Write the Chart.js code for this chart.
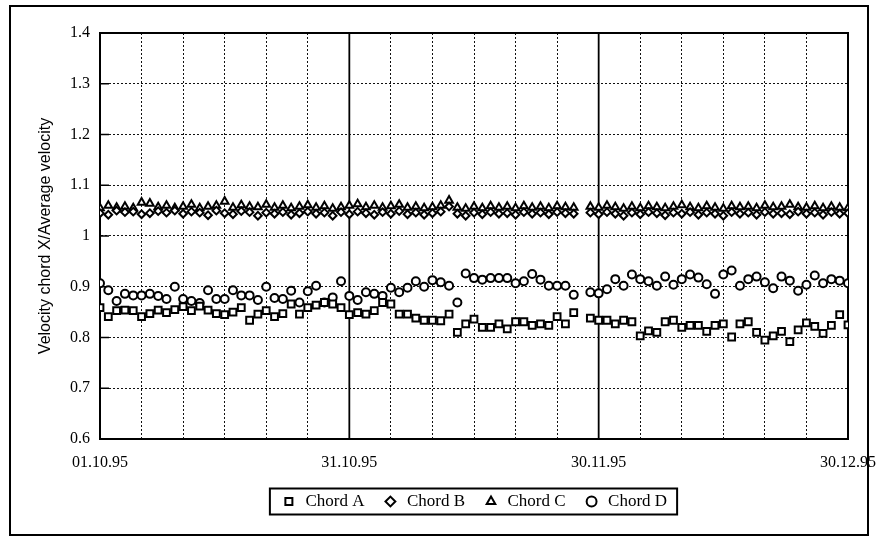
<!DOCTYPE html>
<html>
<head>
<meta charset="utf-8">
<title>Velocity chord X / Average velocity</title>
<script src="https://cdn.jsdelivr.net/npm/chart.js@4.4.1/dist/chart.umd.min.js"></script>
<style>
    html, body { margin: 0; padding: 0; background: #fff; }
    #wrap { width: 880px; height: 541px; position: relative; }
</style>
</head>
<body>
<div id="wrap"><canvas id="chordChart"></canvas></div>
<script>
// daily readings 01.10.95 .. 30.12.95 (index = day since 01.10.95), null = no reading
const chordA = [
    0.859, 0.841, 0.853, 0.854, 0.853, 0.841, 0.847, 0.854, 0.849, 0.855,
    0.861, 0.853, 0.862, 0.854, 0.847, 0.845, 0.850, 0.859, 0.834, 0.846,
    0.853, 0.841, 0.847, 0.866, 0.846, 0.859, 0.864, 0.869, 0.866, 0.859,
    0.845, 0.849, 0.846, 0.853, 0.869, 0.866, 0.846, 0.846, 0.838, 0.834,
    0.834, 0.833, 0.846, 0.810, 0.827, 0.836, 0.820, 0.820, 0.827, 0.817,
    0.831, 0.831, 0.824, 0.827, 0.824, 0.841, 0.827, 0.849, null, 0.838,
    0.834, 0.834, 0.827, 0.834, 0.831, 0.803, 0.813, 0.810, 0.831, 0.834,
    0.820, 0.824, 0.824, 0.812, 0.824, 0.827, 0.801, 0.827, 0.831, 0.810,
    0.795, 0.803, 0.812, 0.792, 0.815, 0.829, 0.822, 0.808, 0.824, 0.845, 0.825
];
const chordB = [
    1.045, 1.042, 1.050, 1.047, 1.048, 1.043, 1.045, 1.049, 1.046, 1.050,
    1.044, 1.048, 1.046, 1.041, 1.050, 1.045, 1.043, 1.049, 1.047, 1.040,
    1.046, 1.044, 1.047, 1.042, 1.045, 1.048, 1.044, 1.046, 1.040, 1.047,
    1.043, 1.048, 1.045, 1.042, 1.047, 1.044, 1.049, 1.043, 1.046, 1.042,
    1.045, 1.048, 1.058, 1.044, 1.040, 1.046, 1.043, 1.047, 1.044, 1.045,
    1.042, 1.047, 1.044, 1.046, 1.043, 1.047, 1.045, 1.044, null, 1.046,
    1.043, 1.047, 1.044, 1.040, 1.046, 1.043, 1.047, 1.045, 1.041, 1.046,
    1.044, 1.047, 1.042, 1.046, 1.044, 1.040, 1.047, 1.044, 1.046, 1.042,
    1.047, 1.044, 1.045, 1.043, 1.048, 1.044, 1.046, 1.042, 1.047, 1.044, 1.045
];
const chordC = [
    1.055, 1.060, 1.056, 1.058, 1.055, 1.066, 1.064, 1.057, 1.060, 1.055,
    1.058, 1.062, 1.055, 1.058, 1.060, 1.068, 1.056, 1.061, 1.058, 1.057,
    1.062, 1.056, 1.060, 1.055, 1.058, 1.061, 1.056, 1.059, 1.054, 1.057,
    1.060, 1.063, 1.057, 1.060, 1.056, 1.059, 1.062, 1.056, 1.058, 1.055,
    1.057, 1.060, 1.070, 1.056, 1.054, 1.058, 1.055, 1.059, 1.056, 1.058,
    1.055, 1.059, 1.056, 1.058, 1.055, 1.059, 1.057, 1.056, null, 1.058,
    1.056, 1.060, 1.057, 1.054, 1.058, 1.055, 1.059, 1.057, 1.055, 1.058,
    1.061, 1.057, 1.055, 1.059, 1.056, 1.054, 1.059, 1.057, 1.058, 1.055,
    1.060, 1.057, 1.058, 1.062, 1.057, 1.056, 1.059, 1.055, 1.058, 1.056, 1.055
];
const chordD = [
    0.907, 0.893, 0.872, 0.886, 0.883, 0.883, 0.886, 0.882, 0.876, 0.900,
    0.876, 0.872, 0.868, 0.893, 0.876, 0.876, 0.893, 0.883, 0.883, 0.874,
    0.900, 0.878, 0.876, 0.892, 0.869, 0.891, 0.902, 0.869, 0.879, 0.911,
    0.882, 0.874, 0.889, 0.886, 0.882, 0.898, 0.889, 0.898, 0.911, 0.900,
    0.913, 0.909, 0.902, 0.869, 0.926, 0.917, 0.914, 0.917, 0.917, 0.917,
    0.907, 0.911, 0.925, 0.914, 0.902, 0.902, 0.902, 0.884, null, 0.889,
    0.887, 0.895, 0.915, 0.902, 0.924, 0.915, 0.911, 0.902, 0.920, 0.904,
    0.915, 0.924, 0.918, 0.905, 0.886, 0.924, 0.932, 0.902, 0.915, 0.920,
    0.909, 0.897, 0.920, 0.912, 0.892, 0.904, 0.922, 0.907, 0.915, 0.912, 0.907
];

const seriesNames = ['Chord A', 'Chord B', 'Chord C', 'Chord D'];
const xTickDays = [0, 30, 60, 90];
const xTickLabels = ['01.10.95', '31.10.95', '30.11.95', '30.12.95'];
const yTickValues = [0.6, 0.7, 0.8, 0.9, 1.0, 1.1, 1.2, 1.3, 1.4];
const yTickLabels = ['0.6', '0.7', '0.8', '0.9', '1', '1.1', '1.2', '1.3', '1.4'];
const monthLines = [30, 60];

function toPoints(values) {
    return values.map((v, day) => ({ x: day, y: v }));
}

// solid month lines, inner tick marks, plot box, legend box and outer frame
const framePlugin = {
    id: 'frames',
    beforeDraw(chart) {
        const ctx = chart.ctx;
        ctx.save();
        ctx.fillStyle = '#fff';
        ctx.fillRect(0, 0, chart.width, chart.height);
        ctx.restore();
    },
    beforeDatasetsDraw(chart) {
        const { ctx, chartArea: a, scales: { x, y } } = chart;
        ctx.save();
        ctx.strokeStyle = '#000';
        ctx.lineWidth = 1.8;
        monthLines.forEach(d => {
            const px = x.getPixelForValue(d);
            ctx.beginPath();
            ctx.moveTo(px, a.top);
            ctx.lineTo(px, a.bottom);
            ctx.stroke();
        });
        ctx.lineWidth = 1.5;
        y.ticks.forEach(t => {
            const py = y.getPixelForValue(t.value);
            ctx.beginPath();
            ctx.moveTo(a.left, py);
            ctx.lineTo(a.left + 9, py);
            ctx.stroke();
        });
        ctx.lineWidth = 2;
        ctx.strokeRect(a.left, a.top, a.right - a.left, a.bottom - a.top);
        ctx.restore();
    },
    afterDraw(chart) {
        const ctx = chart.ctx;
        const boxes = chart.legend.legendHitBoxes;
        ctx.save();
        ctx.strokeStyle = '#000';
        if (boxes && boxes.length) {
            const first = boxes[0];
            const last = boxes[boxes.length - 1];
            const cy = first.top + first.height / 2;
            ctx.lineWidth = 2;
            ctx.strokeRect(first.left - 11, cy - 13, last.left + last.width + 10 - (first.left - 11), 26);
        }
        ctx.lineWidth = 2;
        ctx.strokeRect(10, 6, 858, 529);
        ctx.restore();
    }
};

const markerStyles = [
    { pointStyle: 'rect', radius: 4.8, fill: '#fff' },
    { pointStyle: 'rectRot', radius: 3.8, fill: '#fff' },
    { pointStyle: 'triangle', radius: 4.4, fill: '#fff' },
    { pointStyle: 'circle', radius: 4.0, fill: '#fff' }
];

const allSeries = [chordA, chordB, chordC, chordD];

const datasets = allSeries.map((values, i) => ({
    label: seriesNames[i],
    data: toPoints(values),
    showLine: false,
    pointStyle: markerStyles[i].pointStyle,
    pointRadius: markerStyles[i].radius,
    pointBorderWidth: 2,
    pointBorderColor: '#000',
    pointBackgroundColor: markerStyles[i].fill,
    borderColor: '#000',
    backgroundColor: markerStyles[i].fill
}));

const ctx = document.getElementById('chordChart').getContext('2d');

const chordChart = new Chart(ctx, {
    type: 'scatter',
    data: { datasets: datasets },
    plugins: [framePlugin],
    options: {
        responsive: true,
        maintainAspectRatio: false,
        animation: false,
        devicePixelRatio: 1,
        layout: {
            padding: { left: 36, right: 32, top: 33, bottom: 21 }
        },
        plugins: {
            tooltip: { enabled: false },
            legend: {
                position: 'bottom',
                fullSize: false,
                labels: {
                    usePointStyle: true,
                    boxWidth: 16,
                    boxHeight: 7,
                    padding: 18,
                    color: '#000',
                    font: { family: 'Liberation Serif', size: 17 }
                }
            }
        },
        scales: {
            x: {
                type: 'linear',
                min: 0,
                max: 90,
                afterFit(scale) {
                    scale.height = 36;
                    scale.paddingLeft = 0;
                    scale.paddingRight = 0;
                },
                afterBuildTicks(scale) {
                    const ticks = [];
                    for (let d = 0; d <= 90; d += 5) ticks.push({ value: d });
                    scale.ticks = ticks;
                },
                grid: {
                    color: '#111',
                    lineWidth: 1,
                    drawTicks: false
                },
                border: { display: true, color: '#000', width: 2, dash: [2, 2] },
                ticks: {
                    autoSkip: false,
                    maxRotation: 0,
                    padding: 14,
                    color: '#000',
                    font: { family: 'Liberation Serif', size: 16 },
                    callback: function(value) {
                        const idx = xTickDays.indexOf(value);
                        return idx >= 0 ? xTickLabels[idx] : '';
                    }
                }
            },
            y: {
                min: 0.6,
                max: 1.4,
                afterFit(scale) { scale.width = 64; },
                afterBuildTicks(scale) {
                    scale.ticks = yTickValues.map(v => ({ value: v }));
                },
                grid: {
                    color: '#111',
                    lineWidth: 1,
                    drawTicks: false
                },
                border: { display: true, color: '#000', width: 2, dash: [2, 2] },
                title: {
                    display: true,
                    text: 'Velocity chord X/Average velocity',
                    color: '#000',
                    padding: 0,
                    font: { family: 'Liberation Sans', size: 16 }
                },
                ticks: {
                    padding: 10,
                    color: '#000',
                    font: { family: 'Liberation Serif', size: 16 },
                    callback: function(value, index) {
                        return yTickLabels[index];
                    }
                }
            }
        }
    }
});
</script>
</body>
</html>
